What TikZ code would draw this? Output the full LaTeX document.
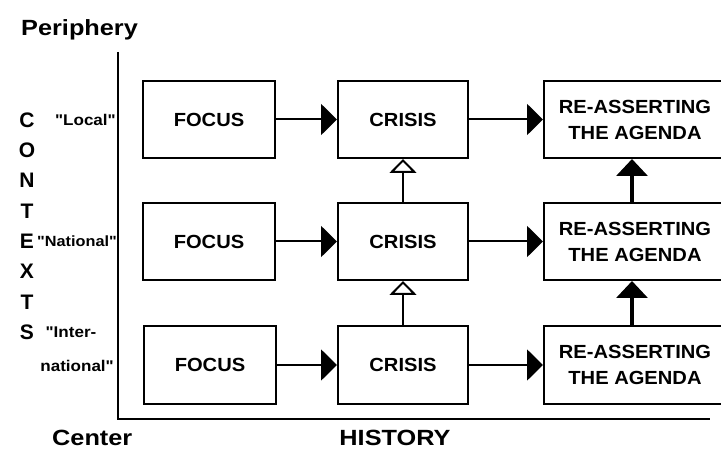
\documentclass[tikz,border=0pt]{standalone}
\usepackage{fontspec}
\setmainfont{Liberation Sans}
\newfontfamily\boxfont[FakeStretch=1.06]{Liberation Sans Bold}
\newfontfamily\labelfont[FakeStretch=1.1]{Liberation Sans Bold}
\newfontfamily\titlefont[FakeStretch=1.15]{Liberation Sans Bold}
\newfontfamily\letterfont{Liberation Sans Bold}
\usetikzlibrary{arrows.meta}
\begin{document}
\begin{tikzpicture}[x=1pt,y=-1pt,
  stagebox/.style={draw, line width=2pt, minimum width=132pt, minimum height=77pt,
    inner sep=0pt, align=center, font=\boxfont\fontsize{19}{26}\selectfont},
  widebox/.style={stagebox, minimum width=182pt},
  flow/.style={line width=2pt, -{Triangle[length=16pt,width=31pt]}},
  rise/.style={line width=2pt, -{Triangle[open,length=14pt,width=27pt]}},
  push/.style={line width=3.5pt, -{Triangle[length=17pt,width=31pt]}},
  axislabel/.style={font=\titlefont\fontsize{22}{24}\selectfont, inner sep=0pt},
  ctxletter/.style={font=\letterfont\fontsize{21}{22}\selectfont, inner sep=0pt},
  level/.style={font=\labelfont\fontsize{15.5}{17}\selectfont, inner sep=0pt},
]
\useasboundingbox (0,0) rectangle (721,449);
\clip (0,0) rectangle (721,449);

% axes
\coordinate (top) at (118,52);
\coordinate (origin) at (118,419);
\coordinate (xend) at (710,419);
\draw[line width=2.5pt] (top) -- (origin) -- (xend);

% axis titles
\node[axislabel, anchor=west] (periphery) at (21,30) {Periphery};
\node[axislabel, anchor=west] (center) at (52,438) {Center};
\node[axislabel] (history) at (395,438) {HISTORY};

% vertical CONTEXTS
\foreach \ch [count=\i from 0] in {C,O,N,T,E,X,T,S}
  \node[ctxletter] (ctx\i) at (27,{120+30.3*\i}) {\ch};

% context levels
\node[level, anchor=east] (local) at (116,120) {"Local"};
\node[level, anchor=east, font=\labelfont\fontsize{14.8}{17}\selectfont] (national) at (117,241) {"National"};
\node[level] (inter) at (71,332) {"Inter-};
\node[level, anchor=east] (intl) at (114,366) {national"};

% row 1
\node[stagebox] (f1) at (209,119.5) {FOCUS};
\node[stagebox, minimum width=130pt] (c1) at (403,119.5) {CRISIS};
\node[widebox] (r1) at (635,119.5) {RE-ASSERTING\\THE AGENDA};
% row 2
\node[stagebox] (f2) at (209,241.5) {FOCUS};
\node[stagebox, minimum width=130pt] (c2) at (403,241.5) {CRISIS};
\node[widebox] (r2) at (635,241.5) {RE-ASSERTING\\THE AGENDA};
% row 3
\node[stagebox] (f3) at (210,365) {FOCUS};
\node[stagebox, minimum width=130pt] (c3) at (403,365) {CRISIS};
\node[widebox] (r3) at (635,365) {RE-ASSERTING\\THE AGENDA};

% horizontal flow
\foreach \r in {1,2,3} {
  \draw[flow] (f\r) -- (c\r);
  \draw[flow] (c\r) -- (r\r);
}

% upward links
\draw[rise] (c3.north) -- (c2.south);
\draw[rise] (c2.north) -- (c1.south);
\draw[push] ([xshift=-3pt]r3.north) -- ([xshift=-3pt]r2.south);
\draw[push] ([xshift=-3pt]r2.north) -- ([xshift=-3pt]r1.south);
\end{tikzpicture}
\end{document}
